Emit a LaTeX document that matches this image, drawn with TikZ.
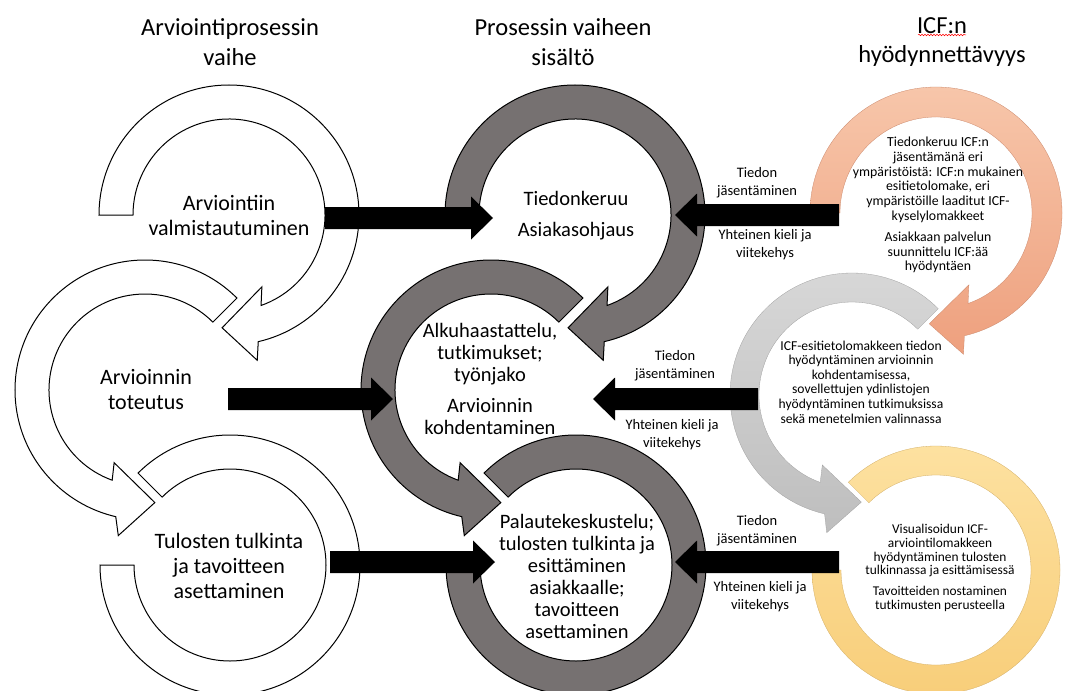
\documentclass[tikz,border=0pt]{standalone}
\usepackage{fontspec}
\setmainfont{Carlito}
\usetikzlibrary{calc,decorations.pathmorphing}
\definecolor{ringgray}{RGB}{118,113,113}
\definecolor{orA}{RGB}{247,198,170}
\definecolor{orB}{RGB}{238,160,126}
\definecolor{grA}{RGB}{216,216,216}
\definecolor{grB}{RGB}{190,190,190}
\definecolor{yeA}{RGB}{253,225,160}
\definecolor{yeB}{RGB}{248,206,122}

% ring with arrow head at the bottom, running clockwise from the left
\newcommand\ringTop[5]{%
 \begin{scope}[shift={(#1,-#2)}]
 \pgfmathsetmacro\rgRO{#3}\pgfmathsetmacro\rgRI{#4}%
 \pgfmathsetmacro\rgRB{#3+18}\pgfmathsetmacro\rgRC{#4-17}\pgfmathsetmacro\rgRM{(#3+#4)/2}%
 \path[#5] (180:\rgRO pt) arc[start angle=180,end angle=-77,radius=\rgRO pt]
   -- (-79:\rgRB pt) -- (-93.5:\rgRM pt) -- (-65.4:\rgRC pt) -- (-70.5:\rgRI pt)
   arc[start angle=-70.5,end angle=180,radius=\rgRI pt] -- cycle;
 \end{scope}}
% ring with arrow head at the bottom, running counter-clockwise from top right
\newcommand\ringMid[5]{%
 \begin{scope}[shift={(#1,-#2)}]
 \pgfmathsetmacro\rgRO{#3}\pgfmathsetmacro\rgRI{#4}%
 \pgfmathsetmacro\rgRB{#3+18}\pgfmathsetmacro\rgRC{#4-17}\pgfmathsetmacro\rgRM{(#3+#4)/2}%
 \path[#5] (45:\rgRO pt) arc[start angle=45,end angle=257,radius=\rgRO pt]
   -- (259.6:\rgRB pt) -- (275:\rgRM pt) -- (247:\rgRC pt) -- (250:\rgRI pt)
   arc[start angle=250,end angle=45,radius=\rgRI pt] -- cycle;
 \end{scope}}
% open ring without head
\newcommand\ringBot[5]{%
 \begin{scope}[shift={(#1,-#2)}]
 \pgfmathsetmacro\rgRO{#3}\pgfmathsetmacro\rgRI{#4}%
 \path[#5] (180:\rgRO pt) arc[start angle=180,end angle=495,radius=\rgRO pt]
   -- (495:\rgRI pt) arc[start angle=495,end angle=180,radius=\rgRI pt] -- cycle;
 \end{scope}}
% block arrows
\newcommand\barrowR[2]{\fill[blk] let \p1=(#1),\p2=(#2) in
  (\x1,\y2+11pt) -- (\x2-22pt,\y2+11pt) -- (\x2-22pt,\y2+21.5pt) -- (\p2)
  -- (\x2-22pt,\y2-21.5pt) -- (\x2-22pt,\y2-11pt) -- (\x1,\y2-11pt) -- cycle;}
\newcommand\barrowL[2]{\fill[blk] let \p1=(#1),\p2=(#2) in
  (\x1,\y2+11pt) -- (\x2+22pt,\y2+11pt) -- (\x2+22pt,\y2+21.5pt) -- (\p2)
  -- (\x2+22pt,\y2-21.5pt) -- (\x2+22pt,\y2-11pt) -- (\x1,\y2-11pt) -- cycle;}

\tikzset{
 whitering/.style={fill=white,draw=black,line width=1pt},
 grayring/.style={fill=ringgray,draw=black,line width=1pt},
 orring/.style={top color=orA,bottom color=orB,draw=orB!85!black,line width=0.3pt},
 grring/.style={top color=grA,bottom color=grB,draw=grB!85!black,line width=0.3pt},
 yering/.style={top color=yeA,bottom color=yeB,draw=yeB!85!black,line width=0.3pt},
 blk/.style={fill=black},
 titletxt/.style={font=\fontsize{24.5}{29.5}\selectfont,align=center,inner sep=0pt},
 lefttxt/.style={font=\fontsize{22}{25}\selectfont,align=center,inner sep=0pt},
 midtxt/.style={font=\fontsize{20.5}{22}\selectfont,align=center,inner sep=0pt},
 icftxt/.style={font=\fontsize{13.8}{14.8}\selectfont,align=center,inner sep=0pt},
 labtxt/.style={font=\fontsize{14.5}{18}\selectfont,align=center,inner sep=0pt},
}

\begin{document}
\begin{tikzpicture}[x=1pt,y=1pt]
\useasboundingbox (0,0) rectangle (1067,-690);

% left column
\ringTop{229}{215}{130}{96}{whitering}
\ringMid{145}{390}{130}{96}{whitering}
\ringBot{230}{565}{130}{96}{whitering}
% middle column
\ringTop{575}{215}{130}{96}{grayring}
\ringMid{491}{390}{130}{96}{grayring}
\ringBot{576}{565}{130}{96}{grayring}
% right column
\ringTop{936}{213}{126}{96}{orring}
\ringMid{852}{395}{122}{93}{grring}
\ringBot{936}{570}{124}{95}{yering}

% block arrows
\coordinate (p1s) at (325,-218); \coordinate (p1e) at (493,-218);
\coordinate (p2s) at (228,-399); \coordinate (p2e) at (393,-399);
\coordinate (p3s) at (330,-562); \coordinate (p3e) at (495,-562);
\coordinate (q1s) at (839,-215); \coordinate (q1e) at (675,-215);
\coordinate (q2s) at (758,-399); \coordinate (q2e) at (593,-399);
\coordinate (q3s) at (839,-562); \coordinate (q3e) at (675,-562);
\barrowR{p1s}{p1e}
\barrowR{p2s}{p2e}
\barrowR{p3s}{p3e}
\barrowL{q1s}{q1e}
\barrowL{q2s}{q2e}
\barrowL{q3s}{q3e}

% titles
\node[titletxt] (h1) at (230,-42) {Arviointiprosessin\\vaihe};
\node[titletxt] (h2) at (563,-42) {Prosessin vaiheen\\sisältö};
\node[titletxt] (h3) at (942,-42) {ICF:n\\hyödynnettävyys};
\draw[red,line width=0.5pt,decorate,decoration={snake,amplitude=0.8pt,segment length=3pt}] (918,-35) -- (966,-35);

% left texts
\node[lefttxt] (a1) at (229,-215) {Arviointiin\\valmistautuminen};
\node[lefttxt] (a2) at (146,-390) {Arvioinnin\\toteutus};
\node[lefttxt] (a3) at (229,-566) {Tulosten tulkinta\\ja tavoitteen\\asettaminen};

% middle texts
\node[midtxt] (b1) at (576,-216) {Tiedonkeruu\\[9pt]Asiakasohjaus};
\node[midtxt] (b2) at (490,-379) {Alkuhaastattelu,\\tutkimukset;\\työnjako\\[9pt]Arvioinnin\\kohdentaminen};
\node[midtxt] (b3) at (577,-576) {Palautekeskustelu;\\tulosten tulkinta ja\\esittäminen\\asiakkaalle;\\tavoitteen\\asettaminen};

% right texts
\node[icftxt] (c1) at (938,-205) {Tiedonkeruu ICF:n\\jäsentämänä eri\\ympäristöistä: ICF:n mukainen\\esitietolomake, eri\\ympäristöille laaditut ICF-\\kyselylomakkeet\\[6pt]Asiakkaan palvelun\\suunnittelu ICF:ää\\hyödyntäen};
\node[icftxt,font=\fontsize{13.6}{14.6}\selectfont] (c2) at (861,-382) {ICF-esitietolomakkeen tiedon\\hyödyntäminen arvioinnin\\kohdentamisessa,\\sovellettujen ydinlistojen\\hyödyntäminen tutkimuksissa\\sekä menetelmien valinnassa};
\node[icftxt,font=\fontsize{13.4}{13.8}\selectfont] (c3) at (940,-568) {Visualisoidun ICF-\\arviointilomakkeen\\hyödyntäminen tulosten\\tulkinnassa ja esittämisessä\\[7pt]Tavoitteiden nostaminen\\tutkimusten perusteella};

% arrow labels
\node[labtxt] (l1a) at (757,-183) {Tiedon\\jäsentäminen};
\node[labtxt] (l1b) at (765,-245) {Yhteinen kieli ja\\viitekehys};
\node[labtxt] (l2a) at (675,-366) {Tiedon\\jäsentäminen};
\node[labtxt] (l2b) at (672,-435) {Yhteinen kieli ja\\viitekehys};
\node[labtxt] (l3a) at (757,-531) {Tiedon\\jäsentäminen};
\node[labtxt] (l3b) at (760,-597) {Yhteinen kieli ja\\viitekehys};
\end{tikzpicture}
\end{document}
